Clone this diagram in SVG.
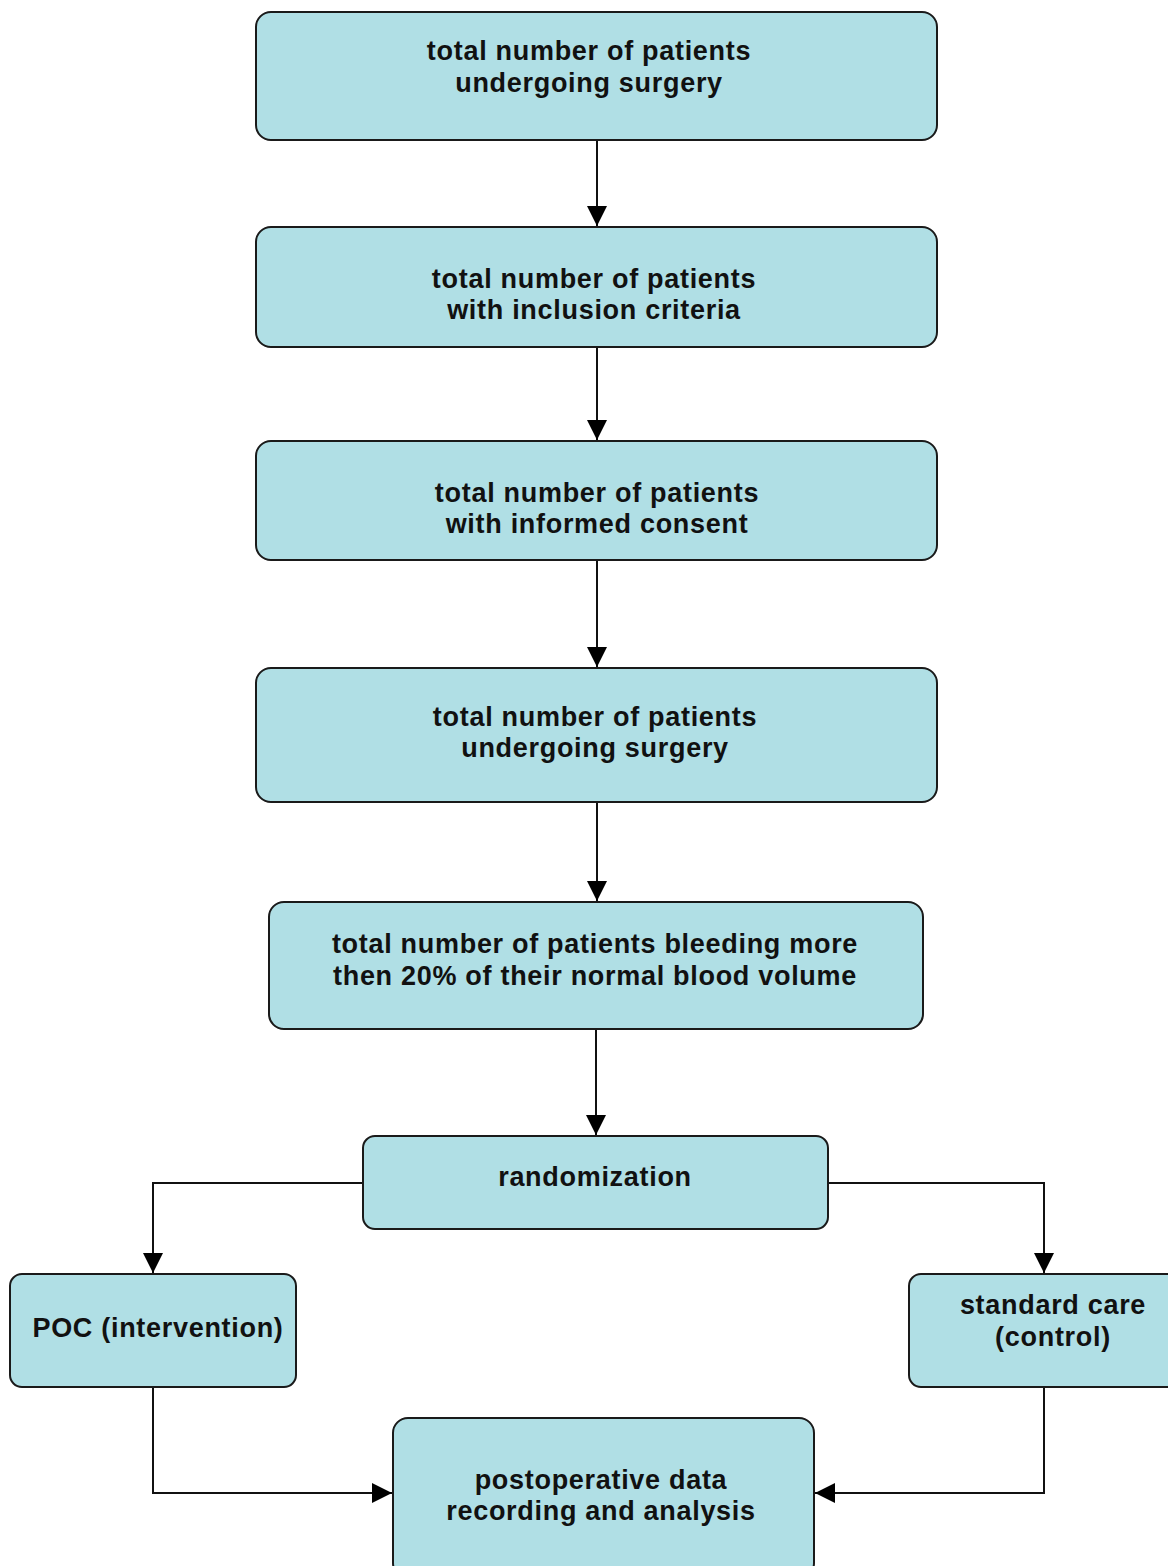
<svg xmlns="http://www.w3.org/2000/svg" width="1168" height="1566" viewBox="0 0 1168 1566">
<style>
.box{fill:#b0dfe5;stroke:#1a1a1a;stroke-width:2}
.t{font-family:"Liberation Sans",Arial,sans-serif;font-weight:bold;font-size:27px;fill:#111;text-anchor:middle;letter-spacing:0.7px}
.c{fill:none;stroke:#111;stroke-width:2}
</style>
<defs>
<marker id="ah" markerWidth="20" markerHeight="20" refX="20" refY="10" orient="auto" markerUnits="userSpaceOnUse">
<path d="M0,0 L20,10 L0,20 Z" fill="#000"/>
</marker>
</defs>
<rect width="1168" height="1566" fill="#fff"/>
<g id="connectors">
<line class="c" x1="597" y1="140" x2="597" y2="226" marker-end="url(#ah)"/>
<line class="c" x1="597" y1="347" x2="597" y2="440" marker-end="url(#ah)"/>
<line class="c" x1="597" y1="560" x2="597" y2="667" marker-end="url(#ah)"/>
<line class="c" x1="597" y1="802" x2="597" y2="901" marker-end="url(#ah)"/>
<line class="c" x1="596" y1="1029" x2="596" y2="1135" marker-end="url(#ah)"/>
<polyline class="c" points="363,1183 153,1183 153,1273" marker-end="url(#ah)"/>
<polyline class="c" points="828,1183 1044,1183 1044,1273" marker-end="url(#ah)"/>
<polyline class="c" points="153,1387 153,1493 392,1493" marker-end="url(#ah)"/>
<polyline class="c" points="1044,1387 1044,1493 815,1493" marker-end="url(#ah)"/>
</g>
<g id="n1"><rect class="box" x="256" y="12" width="681" height="128" rx="15"/>
<text class="t" x="589" y="60">total number of patients</text><text class="t" x="589" y="92">undergoing surgery</text></g>
<g id="n2"><rect class="box" x="256" y="227" width="681" height="120" rx="15"/>
<text class="t" x="594" y="288">total number of patients</text><text class="t" x="594" y="319">with inclusion criteria</text></g>
<g id="n3"><rect class="box" x="256" y="441" width="681" height="119" rx="15"/>
<text class="t" x="597" y="502">total number of patients</text><text class="t" x="597" y="533">with informed consent</text></g>
<g id="n4"><rect class="box" x="256" y="668" width="681" height="134" rx="15"/>
<text class="t" x="595" y="726">total number of patients</text><text class="t" x="595" y="757">undergoing surgery</text></g>
<g id="n5"><rect class="box" x="269" y="902" width="654" height="127" rx="15"/>
<text class="t" x="595" y="953">total number of patients bleeding more</text><text class="t" x="595" y="985">then 20% of their normal blood volume</text></g>
<g id="n6"><rect class="box" x="363" y="1136" width="465" height="93" rx="12"/>
<text class="t" x="595" y="1186">randomization</text></g>
<g id="n7"><rect class="box" x="10" y="1274" width="286" height="113" rx="12"/>
<text class="t" x="158" y="1337">POC (intervention)</text></g>
<g id="n8"><rect class="box" x="909" y="1274" width="270" height="113" rx="12"/>
<text class="t" x="1053" y="1314">standard care</text><text class="t" x="1053" y="1346">(control)</text></g>
<g id="n9"><rect class="box" x="393" y="1418" width="421" height="160" rx="15"/>
<text class="t" x="601" y="1489">postoperative data</text><text class="t" x="601" y="1520">recording and analysis</text></g>
</svg>
